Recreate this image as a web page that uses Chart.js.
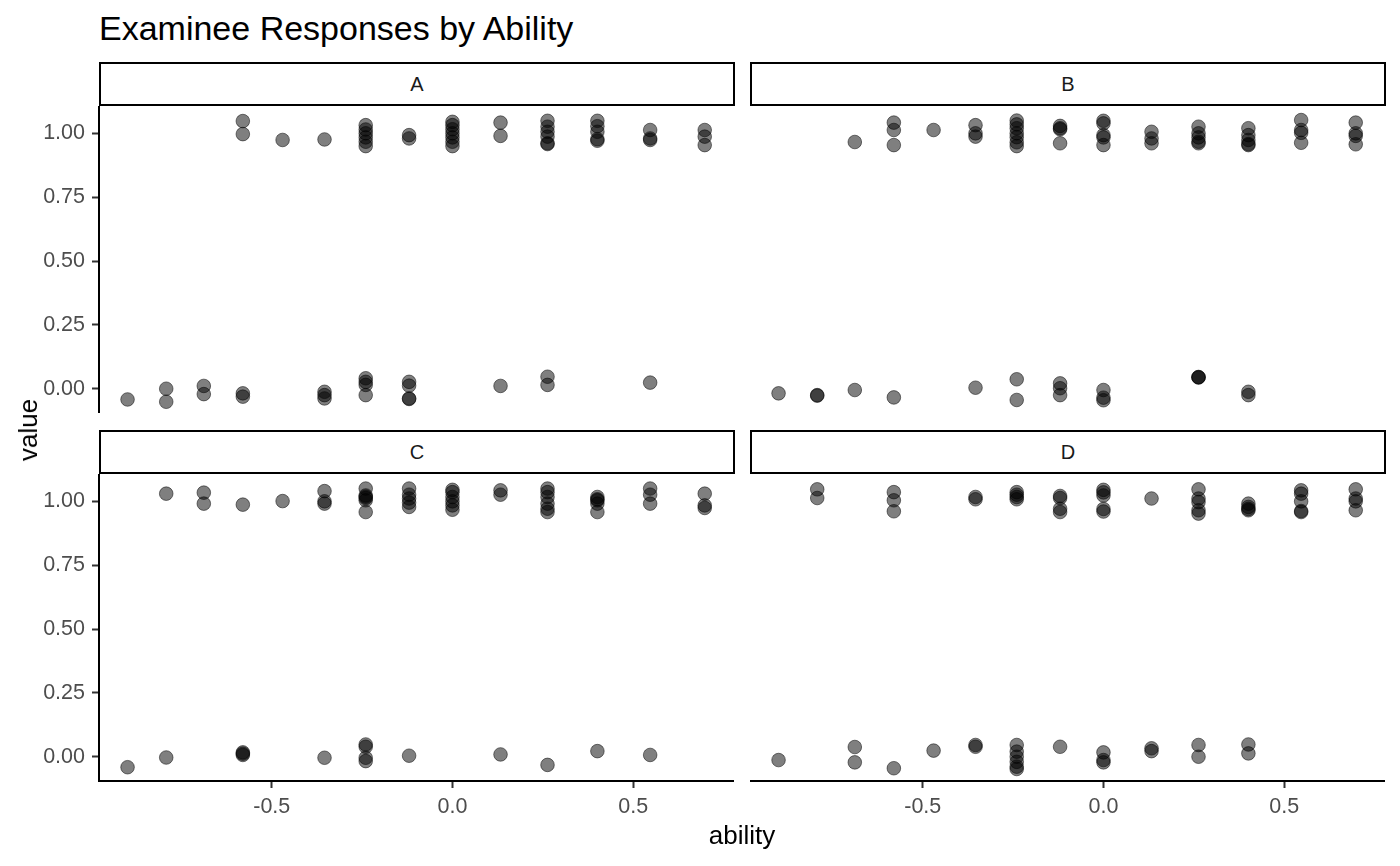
<!DOCTYPE html>
<html>
<head>
<meta charset="utf-8">
<script src="https://cdn.jsdelivr.net/npm/chart.js@4"></script>
<style>
  body { margin: 0; background: #fff; font-family: 'Liberation Sans', Arial, sans-serif; }
  #wrap { position: relative; width: 1400px; height: 866px; overflow: hidden; }
  canvas { position: absolute; }
  .strip { position: absolute; box-sizing: border-box; border: 2px solid #000; background: #fff;
           font-size: 20px; color: #1a1a1a; display: flex; align-items: center; justify-content: center; }
  .lbl { position: absolute; color: #000; white-space: nowrap; line-height: 1; }
</style>
</head>
<body>
<div id="wrap">
  <div class="lbl" style="left:99px; top:11px; font-size:34px;">Examinee Responses by Ability</div>

  <div class="strip" style="left:99px; top:62px; width:636px; height:44px;">A</div>
  <div class="strip" style="left:750px; top:62px; width:636px; height:44px;">B</div>
  <div class="strip" style="left:99px; top:430px; width:636px; height:44px;">C</div>
  <div class="strip" style="left:750px; top:430px; width:636px; height:44px;">D</div>

  <canvas id="panelA" width="734" height="307" style="left:0px; top:106px;"></canvas>
  <canvas id="panelB" width="635" height="307" style="left:750px; top:106px;"></canvas>
  <canvas id="panelC" width="734" height="352" style="left:0px; top:474px;"></canvas>
  <canvas id="panelD" width="635" height="352" style="left:750px; top:474px;"></canvas>

  <div class="lbl" style="left:742px; top:822px; font-size:26px; transform:translateX(-50%);">ability</div>
  <div class="lbl" style="left:28px; top:430px; font-size:26px; transform:translate(-50%,-50%) rotate(-90deg);">value</div>
</div>

<script>
// Examinee responses (jittered 0/1) by ability, one panel per item

const xTicks = [-0.5, 0.0, 0.5];
const yTicks = [0.00, 0.25, 0.50, 0.75, 1.00];

const abilityA = [-0.899, -0.792, -0.792, -0.688, -0.688, -0.580, -0.580, -0.580, -0.580, -0.470,
  -0.354, -0.354, -0.354, -0.354,
  -0.240, -0.240, -0.240, -0.240, -0.240, -0.240, -0.240, -0.240, -0.240, -0.240,
  -0.120, -0.120, -0.120, -0.120, -0.120, -0.120,
  0.0, 0.0, 0.0, 0.0, 0.0, 0.0, 0.0,
  0.133, 0.133, 0.133,
  0.263, 0.263, 0.263, 0.263, 0.263, 0.263, 0.263, 0.263,
  0.401, 0.401, 0.401, 0.401, 0.401,
  0.547, 0.547, 0.547, 0.547,
  0.698, 0.698, 0.698];
const valueA = [-0.042, 0.0, -0.051, 0.011, -0.021, 1.048, 0.997, -0.018, -0.031, 0.974,
  0.976, -0.012, -0.025, -0.038,
  1.032, 1.015, 1.0, 0.984, 0.967, 0.950, 0.041, 0.027, 0.015, -0.025,
  0.993, 0.980, 0.027, 0.012, -0.038, -0.040,
  1.045, 1.032, 1.016, 1.0, 0.984, 0.967, 0.950,
  1.042, 0.990, 0.011,
  1.049, 1.026, 1.006, 0.987, 0.961, 0.958, 0.047, 0.015,
  1.049, 1.028, 1.006, 0.977, 0.971,
  1.013, 0.980, 0.974, 0.024,
  1.013, 0.987, 0.954];

const abilityB = [-0.899, -0.792, -0.792, -0.688, -0.688, -0.580, -0.580, -0.580, -0.580, -0.470,
  -0.354, -0.354, -0.354, -0.354,
  -0.240, -0.240, -0.240, -0.240, -0.240, -0.240, -0.240, -0.240, -0.240,
  -0.120, -0.120, -0.120, -0.120, -0.120, -0.120, -0.120,
  0.0, 0.0, 0.0, 0.0, 0.0, 0.0, 0.0, 0.0,
  0.133, 0.133, 0.133,
  0.263, 0.263, 0.263, 0.263, 0.263, 0.263, 0.263, 0.263,
  0.401, 0.401, 0.401, 0.401, 0.401, 0.401, 0.401,
  0.547, 0.547, 0.547, 0.547,
  0.698, 0.698, 0.698, 0.698];
const valueB = [-0.018, -0.025, -0.027, 0.966, -0.005, 1.042, 1.013, 0.954, -0.034, 1.013,
  1.032, 1.0, 0.987, 0.004,
  1.050, 1.035, 1.020, 1.0, 0.985, 0.965, 0.950, 0.037, -0.044,
  1.029, 1.020, 1.016, 0.961, 0.021, 0.002, -0.025,
  1.049, 1.039, 0.993, 0.984, 0.954, -0.005, -0.035, -0.045,
  1.006, 0.980, 0.961,
  1.026, 1.0, 0.984, 0.967, 0.961, 0.045, 0.044, 0.046,
  1.020, 0.993, 0.974, 0.954, 0.958, -0.012, -0.025,
  1.052, 1.013, 1.002, 0.963,
  1.042, 1.0, 0.990, 0.957];

const abilityC = [-0.899, -0.792, -0.792, -0.688, -0.688, -0.580, -0.580, -0.580, -0.580, -0.470,
  -0.354, -0.354, -0.354, -0.354,
  -0.240, -0.240, -0.240, -0.240, -0.240, -0.240, -0.240, -0.240, -0.240, -0.240,
  -0.120, -0.120, -0.120, -0.120, -0.120, -0.120,
  0.0, 0.0, 0.0, 0.0, 0.0, 0.0,
  0.133, 0.133, 0.133,
  0.263, 0.263, 0.263, 0.263, 0.263, 0.263, 0.263,
  0.401, 0.401, 0.401, 0.401, 0.401, 0.401,
  0.547, 0.547, 0.547, 0.547,
  0.698, 0.698, 0.698];
const valueC = [-0.041, 1.030, -0.003, 1.034, 0.991, 0.987, 0.017, 0.007, 0.012, 1.001,
  1.040, 1.0, 0.991, -0.004,
  1.050, 1.023, 1.018, 1.013, 1.004, 0.958, 0.048, 0.039, -0.004, -0.017,
  1.050, 1.026, 1.011, 0.995, 0.978, 0.004,
  1.045, 1.036, 1.017, 1.0, 0.984, 0.967,
  1.043, 1.026, 0.009,
  1.050, 1.036, 1.017, 0.991, 0.971, 0.958, -0.032,
  1.017, 1.008, 1.004, 0.991, 0.958, 0.022,
  1.050, 1.026, 0.991, 0.007,
  1.030, 0.984, 0.974];

const abilityD = [-0.899, -0.792, -0.792, -0.688, -0.688, -0.580, -0.580, -0.580, -0.580, -0.470,
  -0.354, -0.354, -0.354, -0.354,
  -0.240, -0.240, -0.240, -0.240, -0.240, -0.240, -0.240, -0.240, -0.240, -0.240,
  -0.120, -0.120, -0.120, -0.120, -0.120,
  0.0, 0.0, 0.0, 0.0, 0.0, 0.0, 0.0, 0.0,
  0.133, 0.133, 0.133,
  0.263, 0.263, 0.263, 0.263, 0.263, 0.263, 0.263,
  0.401, 0.401, 0.401, 0.401, 0.401, 0.401,
  0.547, 0.547, 0.547, 0.547, 0.547,
  0.698, 0.698, 0.698, 0.698];
const valueD = [-0.013, 1.047, 1.013, 0.038, -0.022, 1.036, 1.004, 0.961, -0.045, 0.024,
  1.017, 1.008, 0.046, 0.039,
  1.036, 1.026, 1.017, 1.008, 0.046, 0.020, 0.0, -0.020, -0.039, -0.048,
  1.021, 1.013, 0.971, 0.958, 0.039,
  1.045, 1.035, 1.023, 0.970, 0.960, 0.017, -0.013, -0.022,
  1.011, 0.033, 0.022,
  1.047, 1.011, 0.997, 0.965, 0.952, 0.046, 0.0,
  0.991, 0.978, 0.965, 0.970, 0.048, 0.013,
  1.043, 1.030, 1.0, 0.958, 0.962,
  1.047, 1.011, 1.0, 0.965];

const FONT = "'Liberation Sans', Arial, sans-serif";

function zeroPadding(s) {
  s.paddingTop = 0; s.paddingBottom = 0; s.paddingLeft = 0; s.paddingRight = 0;
}

function makePanel(id, abilities, values, showX, showY) {
  const ctx = document.getElementById(id);
  const points = abilities.map((a, i) => ({ x: a, y: values[i] }));

  new Chart(ctx, {
    type: 'scatter',
    data: {
      datasets: [{
        data: points,
        pointRadius: 6.8,
        pointHoverRadius: 6.8,
        backgroundColor: 'rgba(0, 0, 0, 0.5)',
        borderColor: 'rgba(0, 0, 0, 0.5)',
        borderWidth: 1,
        clip: false
      }]
    },
    options: {
      responsive: false,
      animation: false,
      devicePixelRatio: 1,
      layout: { padding: 0, autoPadding: false },
      plugins: { legend: { display: false }, tooltip: { enabled: false } },
      scales: {
        x: {
          type: 'linear',
          display: showX,
          min: -0.978,
          max: 0.779,
          afterFit: s => { s.height = showX ? 45 : 0; zeroPadding(s); },
          afterBuildTicks: s => { s.ticks = xTicks.map(v => ({ value: v })); },
          border: { display: true, color: '#000', width: 2 },
          grid: { drawOnChartArea: false, drawTicks: true, tickLength: 7, tickWidth: 2, tickColor: '#333' },
          ticks: { padding: 6, color: '#4d4d4d', font: { family: FONT, size: 21.5 },
                   callback: v => v.toFixed(1) }
        },
        y: {
          type: 'linear',
          display: showY,
          min: -0.095,
          max: 1.107,
          afterFit: s => { s.width = showY ? 99 : 0; zeroPadding(s); },
          afterBuildTicks: s => { s.ticks = yTicks.map(v => ({ value: v })); },
          border: { display: true, color: '#000', width: 2 },
          grid: { drawOnChartArea: false, drawTicks: true, tickLength: 7, tickWidth: 2, tickColor: '#333' },
          ticks: { padding: 7, color: '#4d4d4d', font: { family: FONT, size: 21.5 },
                   callback: v => v.toFixed(2) }
        }
      }
    }
  });
}

makePanel('panelA', abilityA, valueA, false, true);
makePanel('panelB', abilityB, valueB, false, false);
makePanel('panelC', abilityC, valueC, true, true);
makePanel('panelD', abilityD, valueD, true, false);
</script>
</body>
</html>
